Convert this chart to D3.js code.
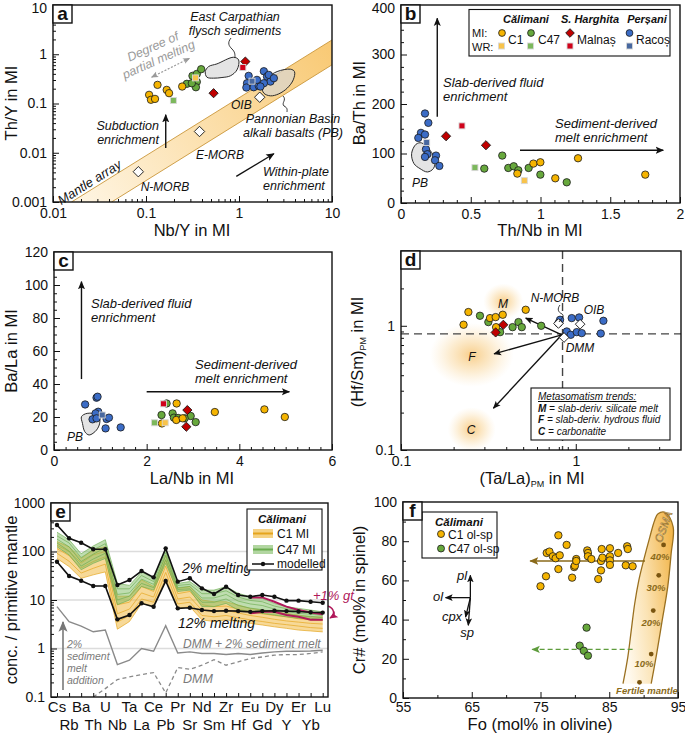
<!DOCTYPE html>
<html><head><meta charset="utf-8">
<script src="https://cdn.jsdelivr.net/npm/d3@7"></script>
<style>body{margin:0;background:#fff}svg text{font-family:"Liberation Sans",Arial,Helvetica,sans-serif}</style>
</head><body>
<svg id="c" width="685" height="734" xmlns="http://www.w3.org/2000/svg"></svg>
<script>
// ================= DATA =================
// Panel a: Nb/Y vs Th/Y (log-log)
const a_C1_MI=[[0.108,0.150],[0.113,0.119],[0.125,0.124],[0.133,0.239],[0.167,0.189],[0.177,0.162],[0.245,0.221]];
const a_C47_MI=[[0.275,0.251],[0.316,0.364],[0.352,0.399],[0.392,0.497],[0.352,0.275],[0.344,0.214],[0.311,0.258]];
const a_C1_WR=[[0.341,0.331]];
const a_C47_WR=[[0.197,0.115]];
const a_Mal_MI=[[0.533,0.162],[1.17,0.710]];
const a_Mal_WR=[[1.10,0.537]];
const a_Rac_MI=[[1.27,0.364],[1.22,0.258],[1.20,0.211],[1.44,0.214],[1.63,0.228],[1.85,0.452],[2.00,0.352],[2.18,0.279],[2.09,0.381],[2.37,0.327],[1.85,0.258],[1.56,0.302],[1.70,0.221]];
const a_Rac_WR=[[1.38,0.284]];
const a_refNames=["N-MORB","E-MORB","OIB"];
const a_ref=[[0.0827,0.00412],[0.376,0.027],[1.67,0.134]];
const a_arrayUpper=[[0.0158,0.001],[10,1.95]];
const a_arrayLower=[[0.0427,0.001],[10,0.61]];
const a_flysch=[[0.434,0.445],[0.471,0.562],[0.579,0.637],[0.875,0.869],[0.991,0.768],[0.951,0.481],[0.806,0.364],[0.656,0.337],[0.533,0.327],[0.452,0.342]];
const a_PB=[[1.77,0.221],[2.00,0.327],[2.57,0.445],[3.58,0.497],[3.95,0.445],[3.83,0.302],[3.30,0.205],[2.68,0.157],[2.18,0.143],[1.85,0.162]];

// Panel b: Th/Nb vs Ba/Th
const b_Rac_MI=[[0.172,180.8],[0.196,161.9],[0.143,141.7],[0.124,131.5],[0.172,138.3],[0.179,108.6],[0.189,98.5],[0.172,93.1],[0.251,95.8],[0.244,86.3],[0.275,74.9]];
const b_Rac_WR=[[0.184,122.1]];
const b_Mal_MI=[[0.323,134.9],[0.609,116.7]];
const b_Mal_WR=[[0.437,155.8]];
const b_C47_WR=[[0.530,71.5]];
const b_C1_WR=[[0.884,45.2]];
const b_C47_MI=[[0.597,69.5],[0.726,95.8],[0.769,70.8],[0.808,74.2],[0.841,66.1],[0.915,70.8],[0.999,57.3],[1.188,41.8]];
const b_C1_MI=[[0.834,59.4],[0.949,79.6],[0.999,82.3],[1.106,49.9],[1.269,90.4],[1.751,57.3]];
const b_PB=[[0.076,99.8],[0.108,118.7],[0.148,121.4],[0.208,106.6],[0.244,86.3],[0.232,69.5],[0.189,62.7],[0.136,69.5],[0.093,79.6]];

// Panel c: La/Nb vs Ba/La
const c_Rac_MI=[[0.672,27.6],[0.918,31.7],[0.940,32.3],[0.954,23.2],[0.897,22.2],[0.832,18.6],[0.918,19.2],[1.135,18.8],[1.186,19.6],[1.113,13.1],[1.439,13.7]];
const c_Rac_WR=[[1.041,21.2]];
const c_Mal_WR=[[2.364,28.0]];
const c_C47_WR=[[2.169,16.5]];
const c_C1_WR=[[2.40,16.5]];
const c_C47_MI=[[2.43,28.2],[2.321,21.2],[2.56,22.2],[2.588,19.6],[2.68,19.4],[2.95,20.6],[3.058,16.9],[2.82,19.2]];
const c_C1_MI=[[2.647,28.2],[2.639,18.2],[2.777,19.2],[3.471,23.0],[4.541,24.6],[4.982,20.0],[2.33,16.1]];
const c_Mal_MI=[[2.878,24.2],[2.856,14.1]];
const c_PB=[[0.593,20.2],[0.716,22.2],[0.954,21.2],[0.991,17.1],[0.918,12.1],[0.759,9.1],[0.665,11.1],[0.615,16.1]];

// Panel d: (Ta/La)PM vs (Hf/Sm)PM (log-log)
const d_C1_MI=[[0.228,1.02],[0.243,1.29],[0.323,1.153],[0.348,1.175],[0.382,1.227],[0.350,0.975],[0.517,1.346]];
const d_C47_MI=[[0.283,1.204],[0.316,1.071],[0.369,0.889],[0.435,0.975],[0.470,1.071],[0.491,0.975],[0.634,1.0]];
const d_Mal_MI=[[0.385,1.019],[0.348,0.884]];
const d_Rac_MI=[[0.813,1.118],[0.948,1.153],[1.045,1.167],[0.888,0.900],[0.936,0.846],[1.013,0.889],[1.082,0.873],[1.439,1.097],[1.39,0.867],[0.796,1.051]];
const d_refNames=["N-MORB","OIB","DMM"];
const d_ref=[[0.796,1.043],[1.059,1.03],[0.857,0.805]];
const d_dashX=0.84, d_dashY=0.86;
const d_origin=[0.832,0.846];
const d_trendNames=["M","F","C"];
const d_trendEnds=[[0.517,1.153],[0.341,0.594],[0.338,0.217]];
const d_glows=[[0.385,1.57],[0.254,0.583],[0.254,0.147]];

// Panel e: spider diagram
const e_elements=["Cs","Rb","Ba","Th","U","Nb","Ta","La","Ce","Pb","Pr","Sr","Nd","Sm","Zr","Hf","Eu","Gd","Dy","Y","Er","Yb","Lu"];
const e_melt2=[352,187,152,111,111,20.4,25.8,39.6,29.3,116,23.9,28.0,17.4,13.3,18.8,12.7,11.7,12.7,11.7,9.7,9.7,9.2,8.8];
const e_melt12=[61.6,31.3,25.0,19.4,19.4,3.99,4.9,8.55,7.28,24.6,6.73,6.9,6.2,5.9,6.0,5.9,5.7,5.9,6.0,5.9,5.8,5.6,5.5];
const e_gtUp=[null,null,null,null,null,null,null,null,null,null,null,null,null,null,null,null,11.3,11.3,9.2,7.3,6.2,5.5,5.1];
const e_gtLow=[null,null,null,null,null,null,null,null,null,null,null,null,null,null,null,null,5.3,5.7,5.7,4.9,4.5,3.9,3.9];
const e_sedMelt=[7.3,3.56,2.9,2.21,2.4,0.467,0.574,1.0,0.88,2.94,0.81,0.85,0.79,0.79,0.75,0.79,0.75,0.81,0.85,0.88,0.88,0.89,0.92];
const e_DMM=[null,null,null,0.1,0.149,0.229,0.26,0.29,0.318,0.121,0.405,0.373,0.452,0.59,0.452,0.53,0.62,0.67,0.73,0.75,0.75,0.79,0.85];
const e_C1_hi=[160,125,72,108,126,12,12,26,19,85,17.4,19,10,9.2,9.2,7.9,6.7,6.2,5.7,5.3,4.9,4.5,4.5];
const e_C1_q3=[135,100,58,85,100,8,9,19,15,66,13.5,15,8,7.3,7.5,6.5,5.7,5.2,4.8,4.5,4.1,3.9,3.8];
const e_C1_mid=[115,82,46,62,78,5.2,6.5,14,11.5,50,10.5,11.5,6.2,5.8,6.1,5.4,4.8,4.4,4.0,3.7,3.5,3.3,3.2];
const e_C1_q1=[92,63,36,45,55,3.5,4.8,10.5,9,37,8.3,9,4.8,4.5,4.8,4.3,3.9,3.6,3.3,3.1,2.9,2.7,2.6];
const e_C1_lo=[72,49,28,33,38,2.5,3.6,8.5,7.3,28,6.7,7.3,3.9,3.6,3.9,3.6,3.3,3.05,2.8,2.6,2.4,2.3,2.2];
const e_C47_hi=[250,175,90,130,175,22,20,38,28,110,22,24,16,16,18.8,13.7,11.7,10.8,8.5,7.3,6.7,6.2,5.7];
const e_C47_q3=[210,150,75,108,145,17,17,32,24,95,20,21,13.5,13.5,15.5,11.5,9.8,9.2,7.5,6.6,6.0,5.6,5.2];
const e_C47_mid=[180,125,62,88,120,13,14,27,21,82,18,19,11,11,13,9.5,8.3,7.7,6.5,5.8,5.3,5.1,4.8];
const e_C47_q1=[150,102,50,70,92,10,12,22,18,68,16.5,17,9,9,10.5,7.7,6.8,6.3,5.6,5.1,4.7,4.6,4.3];
const e_C47_lo=[125,85,42,57,72,8,10,19,16,57,15,16,7.3,7.3,8.5,6.2,5.7,5.3,4.9,4.5,4.2,4.2,3.9];

// Panel f: Fo vs Cr#
const f_C1=[[75.0,57.0],[75.8,62.1],[75.9,74.0],[76.3,74.7],[76.8,72.3],[77.2,71.3],[77.6,83.0],[77.6,65.8],[77.8,72.8],[78.8,78.1],[79.6,61.4],[79.9,66.8],[80.0,67.5],[80.2,70.9],[80.2,69.9],[81.8,75.3],[81.9,74.0],[81.9,72.3],[82.4,70.9],[83.4,60.7],[83.8,69.9],[83.8,65.1],[83.9,76.0],[84.0,71.6],[85.1,76.4],[85.1,72.3],[85.1,70.2],[85.1,67.9],[86.3,74.0],[87.4,67.7],[87.6,77.4],[87.7,76.0],[88.4,67.2]];
const f_C47=[[81.7,35.9],[80.7,26.7],[81.3,24.1],[81.9,21.6]];
const f_osmaLeft=[[87.0,7.3],[87.7,20.9],[88.2,34.5],[88.7,48.1],[89.3,60.0],[90.0,70.2],[90.9,82.1],[91.6,90.6],[92.1,94.0]];
const f_osmaRight=[[93.2,94.6],[94.3,87.2],[94.0,73.6],[93.5,56.6],[92.7,39.6],[91.9,22.6],[91.1,7.3]];
const f_osmaDots=[[92.9,78.1],[92.2,62.6],[91.4,44.6],[91.1,22.4],[89.4,8.0]];
const f_osmaLabels=["40%","30%","20%","10%"];
const f_C1arrow=[[90.2,69.9],[73.5,69.9]];
const f_C47arrow=[[88.4,24.8],[73.8,24.8]];
const f_vecOrigin=[64.8,51.2];
const f_vecNames=["pl","ol","cpx","sp"];
const f_vecEnds=[[64.8,62.6],[61.2,51.2],[64.1,41.3],[64.5,37.1]];

// ================= STYLE =================
const COL={c1:"#f5b400",c47:"#67a83c",mal:"#c00000",rac:"#3b6cc6",
  c1wr:"#f8c34a",c47wr:"#7cb85c",malwr:"#d0021b",racwr:"#48689f"};
const TICK=14, TITLE=16.5, ANN=12.5, LH=14;

const svg=d3.select("#c");
const defs=svg.append("defs");
function marker(id,color){
  defs.append("marker").attr("id",id).attr("viewBox","0 0 10 10").attr("refX",9).attr("refY",5)
   .attr("markerWidth",6).attr("markerHeight",6).attr("orient","auto-start-reverse")
   .append("path").attr("d","M0,0.8 L10,5 L0,9.2 L2.2,5 z").attr("fill",color);
}
marker("mk","#111");marker("mkg","#9a9a9a");marker("mkb","#8a6a1a");marker("mkgr","#5e9c3c");marker("mkgy","#777");marker("mkr","#b0185a");

function clip(id,b){defs.append("clipPath").attr("id",id).append("rect").attr("x",b.l).attr("y",b.t).attr("width",b.r-b.l).attr("height",b.b-b.t);}

function txt(g,x,y,s,o={}){
  const t=g.append("text").attr("x",x).attr("y",y).text(s)
   .attr("font-size",o.size||ANN).attr("text-anchor",o.anchor||"start")
   .attr("fill",o.fill||"#111");
  if(o.italic) t.attr("font-style","italic");
  if(o.bold) t.attr("font-weight","bold");
  if(o.rot!=null) t.attr("transform",`rotate(${o.rot},${x},${y})`);
  return t;
}
function txt2(g,x,y,lines,o={}){lines.forEach((s,i)=>txt(g,x,y+i*(o.lh||LH),s,o));}
function arrow(g,x1,y1,x2,y2,o={}){
  const l=g.append("line").attr("x1",x1).attr("y1",y1).attr("x2",x2).attr("y2",y2)
   .attr("stroke",o.color||"#111").attr("stroke-width",o.w||1.4)
   .attr("marker-end",`url(#${o.mk||"mk"})`);
  if(o.both) l.attr("marker-start",`url(#${o.mk||"mk"})`);
  if(o.dash) l.attr("stroke-dasharray",o.dash);
  return l;
}
function logMinor(lo,hi){const out=[];for(let e=Math.floor(Math.log10(lo));e<Math.ceil(Math.log10(hi));e++){for(let k=2;k<=9;k++){const v=k*Math.pow(10,e);if(v>lo*1.0001&&v<hi*0.9999)out.push(v);}}return out;}
function rangeStep(a,b,s){const o=[];for(let v=a;v<=b+1e-9;v+=s)o.push(+v.toFixed(6));return o;}

function axes(g,b,sx,sy,o){
  const style=s=>{s.select(".domain").remove();s.selectAll("line").attr("stroke","#111").attr("stroke-width",1);
    s.selectAll("text").attr("font-size",TICK).attr("fill","#111").attr("font-family",null);s.attr("font-family",null);};
  if(o.xt){
    g.append("g").attr("transform",`translate(0,${b.b})`).call(d3.axisBottom(sx).tickValues(o.xt).tickFormat(o.xf||(d=>String(d))).tickSize(-6).tickPadding(o.xpad||6)).call(style);
  }
  if(o.xm) g.append("g").attr("transform",`translate(0,${b.b})`).call(d3.axisBottom(sx).tickValues(o.xm).tickFormat("").tickSize(-3)).call(style);
  const ya=g.append("g").attr("transform",`translate(${b.l},0)`).call(d3.axisLeft(sy).tickValues(o.yt).tickFormat(o.yf||(d=>String(d))).tickSize(-6).tickPadding(6)).call(style);
  const top=o.yt[o.yt.length-1];
  ya.selectAll(".tick").filter(d=>d===top).select("text").attr("dy",(b.t<20)?"0.55em":"0.32em");
  if(o.ym) g.append("g").attr("transform",`translate(${b.l},0)`).call(d3.axisLeft(sy).tickValues(o.ym).tickFormat("").tickSize(-3)).call(style);
}
function frame(g,b,letter){
  g.append("rect").attr("x",b.l).attr("y",b.t).attr("width",b.r-b.l).attr("height",b.b-b.t).attr("fill","none").attr("stroke","#111").attr("stroke-width",1.4);
  g.append("rect").attr("x",b.l).attr("y",b.t).attr("width",19).attr("height",18).attr("fill","#fff").attr("stroke","#111").attr("stroke-width",1.4);
  txt(g,b.l+9.5,b.t+15,letter,{size:19,bold:true,anchor:"middle"});
}
function ytitle(g,x,y,s,sub,rest){
  const t=g.append("text").attr("transform",`translate(${x},${y}) rotate(-90)`).attr("text-anchor","middle").attr("font-size",TITLE).attr("fill","#111");
  t.append("tspan").text(s);
  if(sub){t.append("tspan").text(sub).attr("font-size",9).attr("dy",3);t.append("tspan").text(rest).attr("dy",-3);}
  return t;
}
function xtitle(g,x,y,s,sub,rest){
  const t=g.append("text").attr("x",x).attr("y",y).attr("text-anchor","middle").attr("font-size",TITLE).attr("fill","#111");
  t.append("tspan").text(s);
  if(sub){t.append("tspan").text(sub).attr("font-size",9).attr("dy",3);t.append("tspan").text(rest).attr("dy",-3);}
  return t;
}
function circles(g,data,sx,sy,fill,r){g.selectAll(null).data(data).enter().append("circle").attr("cx",d=>sx(d[0])).attr("cy",d=>sy(d[1])).attr("r",r||3.7).attr("fill",fill).attr("stroke","#1a1a1a").attr("stroke-width",0.8);}
function squares(g,data,sx,sy,fill){const s=6;g.selectAll(null).data(data).enter().append("rect").attr("x",d=>sx(d[0])-s/2).attr("y",d=>sy(d[1])-s/2).attr("width",s).attr("height",s).attr("fill",fill).attr("stroke","#d8d8d8").attr("stroke-width",0.9);}
function diamonds(g,data,sx,sy,fill,stroke,h){h=h||4.6;g.selectAll(null).data(data).enter().append("path").attr("d",d=>{const x=sx(d[0]),y=sy(d[1]);return `M${x},${y-h}L${x+h},${y}L${x},${y+h}L${x-h},${y}Z`;}).attr("fill",fill).attr("stroke",stroke||"#1a1a1a").attr("stroke-width",0.9);}
function blob(g,data,sx,sy,fill,op){g.append("path").attr("d",d3.line().x(d=>sx(d[0])).y(d=>sy(d[1])).curve(d3.curveCatmullRomClosed.alpha(0.5))(data)).attr("fill",fill).attr("fill-opacity",op==null?1:op).attr("stroke","#2a2a2a").attr("stroke-width",1);}

// ================= PANEL A =================
const A={l:53,t:5,r:332,b:202};
clip("clA",A);
const gA=svg.append("g");
const axs=d3.scaleLog().domain([0.01,10]).range([A.l,A.r]);
const ays=d3.scaleLog().domain([0.001,10]).range([A.b,A.t]);
{
  const grad=defs.append("linearGradient").attr("id","gBand").attr("gradientUnits","userSpaceOnUse").attr("x1",A.l).attr("y1",A.b).attr("x2",A.r).attr("y2",A.t);
  grad.append("stop").attr("offset","0%").attr("stop-color","#fff8ea");
  grad.append("stop").attr("offset","100%").attr("stop-color","#f8c66c");
  const gc=gA.append("g").attr("clip-path","url(#clA)");
  const poly=a_arrayUpper.concat(a_arrayLower.slice().reverse());
  gc.append("path").attr("d","M"+poly.map(d=>[axs(d[0]),ays(d[1])].join(",")).join("L")+"Z").attr("fill","url(#gBand)");
  [a_arrayUpper,a_arrayLower].forEach(l=>gc.append("path").attr("d",d3.line().x(d=>axs(d[0])).y(d=>ays(d[1]))(l)).attr("stroke","#c9963a").attr("stroke-width",0.9).attr("fill","none"));
  axes(gA,A,axs,ays,{xt:[0.01,0.1,1,10],xm:logMinor(0.01,10),yt:[0.001,0.01,0.1,1,10],ym:logMinor(0.001,10)});
  blob(gc,a_flysch,axs,ays,"#e4e4e4");
  blob(gc,a_PB,axs,ays,"#d6d6d6",0.65);
  gA.append("path").attr("d","M231,38 C227,43 229,46 232,49 C235,52 235,54 235,58").attr("fill","none").attr("stroke","#222").attr("stroke-width",0.9);
  gA.append("path").attr("d","M283,96 C287,100 281,103 284,106 C288,108 287,110 287,112").attr("fill","none").attr("stroke","#222").attr("stroke-width",0.9);
  arrow(gA,axs(0.115),ays(0.342),axs(0.294),ays(0.83),{color:"#9a9a9a",mk:"mkg",both:true,dash:"2,1.6",w:1.2});
  arrow(gA,axs(0.163),ays(0.01244),axs(0.163),ays(0.0589),{w:1.4});
  arrow(gA,axs(0.935),ays(0.00331),axs(2.37),ays(0.00955),{w:1.4});
  circles(gA,a_Rac_MI,axs,ays,COL.rac);
  squares(gA,a_Rac_WR,axs,ays,COL.racwr);
  circles(gA,a_C47_MI,axs,ays,COL.c47);
  circles(gA,a_C1_MI,axs,ays,COL.c1);
  squares(gA,a_C1_WR,axs,ays,COL.c1wr);
  squares(gA,a_C47_WR,axs,ays,COL.c47wr);
  diamonds(gA,a_Mal_MI,axs,ays,COL.mal);
  squares(gA,a_Mal_WR,axs,ays,COL.malwr);
  diamonds(gA,a_ref,axs,ays,"#fff","#111",5.2);
  txt2(gA,235,21,["East Carpathian","flysch sediments"],{italic:true,anchor:"middle"});
  const dg=gA.append("g").attr("transform","translate(157,56) rotate(-24)");
  txt2(dg,0,-6,["Degree of","partial melting"],{italic:true,anchor:"middle",fill:"#9a9a9a"});
  txt2(gA,293,123,["Pannonian Basin","alkali basalts (PB)"],{italic:true,anchor:"middle"});
  txt2(gA,159,130,["Subduction","enrichment"],{italic:true,anchor:"end"});
  txt2(gA,263,176,["Within-plate","enrichment"],{italic:true});
  txt(gA,axs(a_ref[2][0])-8,ays(a_ref[2][1])+12,a_refNames[2],{italic:true,anchor:"end",size:12});
  txt(gA,220,159,a_refNames[1],{italic:true,anchor:"middle",size:12});
  txt(gA,165,191,a_refNames[0],{italic:true,anchor:"middle",size:12});
  txt(gA,92,186,"Mantle array",{italic:true,anchor:"middle",rot:-32,size:13});
  ytitle(gA,17,103,"Th/Y in MI");
  xtitle(gA,192,236,"Nb/Y in MI");
  frame(gA,A,"a");
}

// ================= PANEL B =================
const B={l:401,t:5,r:680,b:203};
const gB=svg.append("g");
const bxs=d3.scaleLinear().domain([0,2]).range([B.l,B.r]);
const bys=d3.scaleLinear().domain([0,400]).range([B.b,B.t]);
{
  axes(gB,B,bxs,bys,{xt:[0,0.5,1,1.5,2],xm:rangeStep(0.1,1.9,0.1).filter(v=>Math.abs(v*2-Math.round(v*2))>1e-6),yt:[0,100,200,300,400],ym:rangeStep(25,375,25).filter(v=>v%100!==0)});
  blob(gB,b_PB,bxs,bys,"#e4e4e4");
  txt(gB,420,187,"PB",{italic:true,size:12,anchor:"middle"});
  arrow(gB,bxs(0.26),bys(174),bxs(0.26),bys(373),{w:1.4});
  arrow(gB,bxs(0.853),bys(106.6),bxs(1.88),bys(106.6),{w:1.4});
  txt2(gB,443,87,["Slab-derived fluid","enrichment"],{italic:true,size:13});
  txt2(gB,555,128,["Sediment-derived","melt enrichment"],{italic:true,size:13});
  circles(gB,b_Rac_MI,bxs,bys,COL.rac);
  squares(gB,b_Rac_WR,bxs,bys,COL.racwr);
  circles(gB,b_C47_MI,bxs,bys,COL.c47);
  circles(gB,b_C1_MI,bxs,bys,COL.c1);
  squares(gB,b_C47_WR,bxs,bys,COL.c47wr);
  squares(gB,b_C1_WR,bxs,bys,COL.c1wr);
  diamonds(gB,b_Mal_MI,bxs,bys,COL.mal);
  squares(gB,b_Mal_WR,bxs,bys,COL.malwr);
  const L=gB.append("g");
  L.append("rect").attr("x",469).attr("y",9.5).attr("width",201).attr("height",46.5).attr("fill","#fff").attr("stroke","#111").attr("stroke-width",1.1);
  txt(L,526,23,"Călimani",{bold:true,italic:true,size:11,anchor:"middle"});
  txt(L,590,23,"S. Harghita",{bold:true,italic:true,size:11,anchor:"middle"});
  txt(L,647,23,"Perșani",{bold:true,italic:true,size:11,anchor:"middle"});
  txt(L,472,37,"MI:",{size:11});
  txt(L,472,50.5,"WR:",{size:11});
  const lx=d3.scaleIdentity(), ly=d3.scaleIdentity();
  circles(L,[[502,33]],lx,ly,COL.c1,3.4); squares(L,[[501.5,46]],lx,ly,COL.c1wr); txt(L,508,44,"C1",{size:12});
  circles(L,[[531,33]],lx,ly,COL.c47,3.4); squares(L,[[530.5,46]],lx,ly,COL.c47wr); txt(L,538,44,"C47",{size:12});
  diamonds(L,[[570,33]],lx,ly,COL.mal,null,4.3); squares(L,[[570,46]],lx,ly,COL.malwr); txt(L,577,44,"Malnaș",{size:12});
  circles(L,[[629.5,33]],lx,ly,COL.rac,3.4); squares(L,[[629.5,46]],lx,ly,COL.racwr); txt(L,636,44,"Racoș",{size:12});
  ytitle(gB,365,103,"Ba/Th in MI");
  xtitle(gB,540,236,"Th/Nb in MI");
  frame(gB,B,"b");
}

// ================= PANEL C =================
const C={l:54,t:252,r:332,b:450};
const gC=svg.append("g");
const cxs=d3.scaleLinear().domain([0,6]).range([C.l,C.r]);
const cys=d3.scaleLinear().domain([0,120]).range([C.b,C.t]);
{
  axes(gC,C,cxs,cys,{xt:[0,2,4,6],xm:rangeStep(0.25,5.75,0.25).filter(v=>v%2!==0),yt:[0,20,40,60,80,100,120],ym:rangeStep(5,115,5).filter(v=>v%20!==0)});
  blob(gC,c_PB,cxs,cys,"#e4e4e4");
  txt(gC,75,441,"PB",{italic:true,size:12,anchor:"middle"});
  arrow(gC,cxs(0.593),cys(43),cxs(0.593),cys(102),{w:1.4});
  arrow(gC,cxs(2.0),cys(35.3),cxs(5.08),cys(35.3),{w:1.4});
  txt2(gC,91,308,["Slab-derived fluid","enrichment"],{italic:true,size:13});
  txt2(gC,195,369,["Sediment-derived","melt enrichment"],{italic:true,size:13});
  circles(gC,c_Rac_MI,cxs,cys,COL.rac);
  squares(gC,c_Rac_WR,cxs,cys,COL.racwr);
  circles(gC,c_C47_MI,cxs,cys,COL.c47);
  circles(gC,c_C1_MI,cxs,cys,COL.c1);
  squares(gC,c_C47_WR,cxs,cys,COL.c47wr);
  squares(gC,c_C1_WR,cxs,cys,COL.c1wr);
  squares(gC,c_Mal_WR,cxs,cys,COL.malwr);
  diamonds(gC,c_Mal_MI,cxs,cys,COL.mal);
  ytitle(gC,17,351,"Ba/La in MI");
  xtitle(gC,192,484,"La/Nb in MI");
  frame(gC,C,"c");
}

// ================= PANEL D =================
const D={l:401,t:251,r:681,b:450};
clip("clD",D);
const gD=svg.append("g");
const dxs=d3.scaleLog().domain([0.1,4]).range([D.l,D.r]);
const dys=d3.scaleLog().domain([0.1,4]).range([D.b,D.t]);
{
  const rg=defs.append("radialGradient").attr("id","glow");
  rg.append("stop").attr("offset","0%").attr("stop-color","#f2a72e").attr("stop-opacity",0.55);
  rg.append("stop").attr("offset","55%").attr("stop-color","#f5b84e").attr("stop-opacity",0.25);
  rg.append("stop").attr("offset","100%").attr("stop-color","#f8cc80").attr("stop-opacity",0);
  const gc=gD.append("g").attr("clip-path","url(#clD)");
  const glowR=[[20,18],[42,32],[24,22]];
  d_glows.forEach((d,i)=>gc.append("ellipse").attr("cx",dxs(d[0])).attr("cy",dys(d[1])).attr("rx",glowR[i][0]).attr("ry",glowR[i][1]).attr("fill","url(#glow)"));
  axes(gD,D,dxs,dys,{xt:[0.1,1],xm:logMinor(0.1,4),yt:[0.1,1],ym:logMinor(0.1,4)});
  gc.append("line").attr("x1",dxs(d_dashX)).attr("x2",dxs(d_dashX)).attr("y1",D.t).attr("y2",D.b).attr("stroke","#444").attr("stroke-width",1.4).attr("stroke-dasharray","8,5");
  gc.append("line").attr("x1",D.l).attr("x2",D.r).attr("y1",dys(d_dashY)).attr("y2",dys(d_dashY)).attr("stroke","#444").attr("stroke-width",1.4).attr("stroke-dasharray","8,5");
  d_trendEnds.forEach(e=>arrow(gD,dxs(d_origin[0]),dys(d_origin[1]),dxs(e[0]),dys(e[1]),{w:1.3}));
  txt(gD,503,308,d_trendNames[0],{italic:true,anchor:"middle",size:12});
  txt(gD,472,361,d_trendNames[1],{italic:true,anchor:"middle",size:12});
  txt(gD,471,434,d_trendNames[2],{italic:true,anchor:"middle",size:12});
  circles(gD,d_Rac_MI,dxs,dys,COL.rac);
  circles(gD,d_C47_MI,dxs,dys,COL.c47);
  circles(gD,d_C1_MI,dxs,dys,COL.c1);
  diamonds(gD,d_Mal_MI,dxs,dys,COL.mal);
  diamonds(gD,d_ref,dxs,dys,"#fff","#111",4.8);
  gD.append("path").attr("d","M560,305 C557,309 558,312 562,314 C565,316 561,319 559,322").attr("fill","none").attr("stroke","#222").attr("stroke-width",0.9);
  txt(gD,555,302,d_refNames[0],{italic:true,anchor:"middle",size:12});
  txt(gD,594,314,d_refNames[1],{italic:true,anchor:"middle",size:12});
  txt(gD,580,352,d_refNames[2],{italic:true,anchor:"middle",size:12});
  const L=gD.append("g");
  L.append("rect").attr("x",531).attr("y",388).attr("width",139).attr("height",52).attr("fill","#fff").attr("stroke","#111").attr("stroke-width",1.1);
  txt(L,538,400,"Metasomatism trends:",{italic:true,size:10}).attr("text-decoration","underline");
  [["M"," = slab-deriv. silicate melt"],["F"," = slab-deriv. hydrous fluid"],["C"," = carbonatite"]].forEach((r,i)=>{
    const t=L.append("text").attr("x",538).attr("y",411.5+i*11.5).attr("font-size",10).attr("font-style","italic").attr("fill","#111");
    t.append("tspan").text(r[0]).attr("font-weight","bold");t.append("tspan").text(r[1]);
  });
  ytitle(gD,363,352,"(Hf/Sm)","PM"," in MI");
  xtitle(gD,532,484,"(Ta/La)","PM"," in MI");
  frame(gD,D,"d");
}

// ================= PANEL E =================
const E={l:51,t:503,r:328,b:697};
clip("clE",E);
const gE=svg.append("g");
const exs=d3.scalePoint().domain(e_elements).range([57,322.7]);
const eys=d3.scaleLog().domain([0.1,1000]).range([E.b,E.t]);
{
  const gc=gE.append("g").attr("clip-path","url(#clE)");
  [1,10,100].forEach(v=>gc.append("line").attr("x1",E.l).attr("x2",E.r).attr("y1",eys(v)).attr("y2",eys(v)).attr("stroke","#dcdcdc").attr("stroke-width",1.5));
  axes(gE,E,exs,eys,{yt:[0.1,1,10,100,1000],ym:logMinor(0.1,1000)});
  gE.append("g").attr("transform",`translate(0,${E.b})`).call(d3.axisBottom(exs).tickSize(-4).tickFormat("")).call(s=>{s.select(".domain").remove();s.selectAll("line").attr("stroke","#111");});
  const lineI=(arr)=>d3.line().defined(d=>d[1]!=null).x(d=>exs(d[0])).y(d=>eys(d[1]))(arr.map((v,i)=>[e_elements[i],v]));
  const area=(lo,hi)=>d3.area().x((d,i)=>exs(e_elements[i])).y0((d,i)=>eys(lo[i])).y1((d,i)=>eys(hi[i]))(lo);
  gc.append("path").attr("d",lineI(e_sedMelt)).attr("fill","none").attr("stroke","#8a8a8a").attr("stroke-width",1.4);
  gc.append("path").attr("d",lineI(e_DMM)).attr("fill","none").attr("stroke","#8a8a8a").attr("stroke-width",1.3).attr("stroke-dasharray","4,3");
  gc.append("path").attr("d",area(e_C1_lo,e_C1_hi)).attr("fill","#efb431").attr("fill-opacity",0.5);
  [e_C1_hi,e_C1_q3,e_C1_mid,e_C1_q1,e_C1_lo].forEach(a=>gc.append("path").attr("d",lineI(a)).attr("fill","none").attr("stroke","#e5a51c").attr("stroke-width",0.8).attr("stroke-opacity",0.85));
  gc.append("path").attr("d",area(e_C47_lo,e_C47_hi)).attr("fill","#7fbb62").attr("fill-opacity",0.5);
  [e_C47_hi,e_C47_q3,e_C47_mid,e_C47_q1,e_C47_lo].forEach(a=>gc.append("path").attr("d",lineI(a)).attr("fill","none").attr("stroke","#6aac4e").attr("stroke-width",0.8).attr("stroke-opacity",0.8));
  [e_gtUp,e_gtLow].forEach(a=>gc.append("path").attr("d",lineI(a)).attr("fill","none").attr("stroke","#b0185a").attr("stroke-width",2));
  [e_melt2,e_melt12].forEach(a=>{
    gc.append("path").attr("d",lineI(a)).attr("fill","none").attr("stroke","#111").attr("stroke-width",1.6);
    gc.selectAll(null).data(a).enter().append("circle").attr("cx",(d,i)=>exs(e_elements[i])).attr("cy",d=>eys(d)).attr("r",2.2).attr("fill","#111");
  });
  e_elements.forEach((el,i)=>txt(gE,exs(el),i%2===0?712:730,el,{size:15,anchor:"middle"}));
  txt(gE,182,573,"2% melting",{italic:true,size:14});
  txt(gE,178,628,"12% melting",{italic:true,size:14});
  txt(gE,183,648,"DMM + 2% sediment melt",{italic:true,size:12,fill:"#7a7a7a"});
  txt(gE,183,683,"DMM",{italic:true,size:12.5,fill:"#7a7a7a"});
  txt2(gE,67,648,["2%","sediment","melt","addition"],{italic:true,size:10.5,fill:"#7a7a7a",lh:12});
  arrow(gE,63,690,63,622,{color:"#888",mk:"mkgy",w:1.8});
  txt(gE,313,600,"+1% gt",{italic:true,size:13,fill:"#b0185a"});
  gE.append("path").attr("d","M328,606 C335,609 335,615 330,618").attr("fill","none").attr("stroke","#b0185a").attr("stroke-width",1.4).attr("marker-end","url(#mkr)");
  const L=gE.append("g");
  L.append("rect").attr("x",247).attr("y",509).attr("width",75).attr("height",61).attr("fill","#fff").attr("stroke","#111").attr("stroke-width",1.1);
  txt(L,282,523,"Călimani",{bold:true,italic:true,size:11.5,anchor:"middle"});
  L.append("rect").attr("x",253).attr("y",529).attr("width",20).attr("height",9).attr("fill","#efb431").attr("fill-opacity",0.6);
  L.append("line").attr("x1",253).attr("x2",273).attr("y1",533.5).attr("y2",533.5).attr("stroke","#e5a51c").attr("stroke-width",2);
  txt(L,277,538,"C1 MI",{size:12});
  L.append("rect").attr("x",253).attr("y",545).attr("width",20).attr("height",9).attr("fill","#7fbb62").attr("fill-opacity",0.6);
  L.append("line").attr("x1",253).attr("x2",273).attr("y1",549.5).attr("y2",549.5).attr("stroke","#6aac4e").attr("stroke-width",2);
  txt(L,277,554,"C47 MI",{size:12});
  L.append("line").attr("x1",252).attr("x2",274).attr("y1",564).attr("y2",564).attr("stroke","#111").attr("stroke-width",1.5);
  L.append("circle").attr("cx",263).attr("cy",564).attr("r",2.2).attr("fill","#111");
  txt(L,277,568,"modelled",{size:12});
  ytitle(gE,17,600,"conc. / primitive mantle");
  frame(gE,E,"e");
}

// ================= PANEL F =================
const F={l:403,t:502,r:678,b:698};
clip("clF",F);
const gF=svg.append("g");
const fxs=d3.scaleLinear().domain([55,95]).range([F.l,F.r]);
const fys=d3.scaleLinear().domain([0,100]).range([F.b,F.t]);
{
  const gc=gF.append("g").attr("clip-path","url(#clF)");
  const og=defs.append("linearGradient").attr("id","gOsma").attr("x1","0").attr("y1","0.7").attr("x2","1").attr("y2","0.3");
  og.append("stop").attr("offset","0%").attr("stop-color","#fffaf0");
  og.append("stop").attr("offset","45%").attr("stop-color","#fbe3b4");
  og.append("stop").attr("offset","100%").attr("stop-color","#f2b74e");
  const ln=d3.line().x(d=>fxs(d[0])).y(d=>fys(d[1])).curve(d3.curveCatmullRom);
  const poly=f_osmaLeft.concat(f_osmaRight);
  gc.append("path").attr("d",ln(poly)+"Z").attr("fill","url(#gOsma)");
  gc.append("path").attr("d",ln(poly)).attr("fill","none").attr("stroke","#9a7020").attr("stroke-width",1.3);
  axes(gF,F,fxs,fys,{xt:[55,65,75,85,95],xm:[60,70,80,90],yt:[0,20,40,60,80,100],ym:[10,30,50,70,90],xpad:4});
  gF.selectAll(null).data(f_osmaDots).enter().append("circle").attr("cx",d=>fxs(d[0])).attr("cy",d=>fys(d[1])).attr("r",2.4).attr("fill","#7a5510");
  const lp=[[660,560],[656,591],[651,626],[644,667]];
  f_osmaLabels.forEach((s,i)=>txt(gF,lp[i][0],lp[i][1],s,{italic:true,bold:true,size:9.5,fill:"#8a6a1a",anchor:"middle"}));
  txt(gF,647,694,"Fertile mantle",{italic:true,bold:true,size:9.5,fill:"#8a6a1a",anchor:"middle"});
  txt(gF,667,528,"OSMA",{italic:true,size:11,fill:"#fff",anchor:"middle",rot:-70}).attr("stroke","#9a7020").attr("stroke-width",0.6);
  arrow(gF,fxs(f_C1arrow[0][0]),fys(f_C1arrow[0][1]),fxs(f_C1arrow[1][0]),fys(f_C1arrow[1][1]),{color:"#8a6a1a",mk:"mkb",w:1.5});
  arrow(gF,fxs(f_C47arrow[0][0]),fys(f_C47arrow[0][1]),fxs(f_C47arrow[1][0]),fys(f_C47arrow[1][1]),{color:"#5e9c3c",mk:"mkgr",w:1.4,dash:"5,3"});
  circles(gF,f_C1,fxs,fys,COL.c1);
  circles(gF,f_C47,fxs,fys,COL.c47);
  f_vecEnds.forEach(e=>arrow(gF,fxs(f_vecOrigin[0]),fys(f_vecOrigin[1]),fxs(e[0]),fys(e[1]),{w:1.3}));
  const vp=[[462,580],[438,601],[452,621],[467,637]];
  f_vecNames.forEach((s,i)=>txt(gF,vp[i][0],vp[i][1],s,{italic:true,size:13,anchor:"middle"}));
  const L=gF.append("g");
  L.append("rect").attr("x",422).attr("y",512).attr("width",75).attr("height",46).attr("fill","#fff").attr("stroke","#111").attr("stroke-width",1.1);
  txt(L,459,526,"Călimani",{bold:true,italic:true,size:11.5,anchor:"middle"});
  const li=d3.scaleIdentity();
  circles(L,[[441,534]],li,li,COL.c1,3.5); txt(L,448,538.5,"C1 ol-sp",{size:12});
  circles(L,[[441,548.5]],li,li,COL.c47,3.5); txt(L,448,553,"C47 ol-sp",{size:12});
  ytitle(gF,365,600,"Cr# (mol% in spinel)");
  xtitle(gF,540,730,"Fo (mol% in olivine)");
  frame(gF,F,"f");
}
</script>
</body></html>
